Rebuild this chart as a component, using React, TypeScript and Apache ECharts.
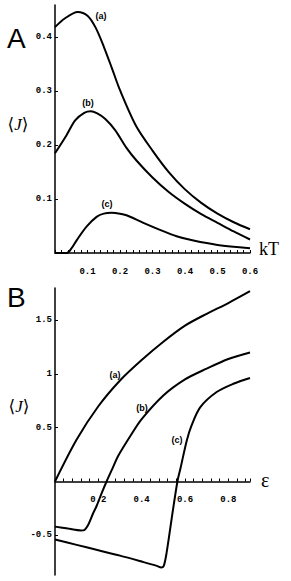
import React, { useEffect, useRef } from "react";
import * as echarts from "echarts";

// Panel A: <J> vs kT
const panelA_a: [number, number][] = [
  [0, 0.419], [0.03, 0.435], [0.07, 0.447], [0.1, 0.44], [0.125, 0.418], [0.15, 0.383],
  [0.175, 0.343], [0.2, 0.302], [0.25, 0.235], [0.3, 0.19], [0.35, 0.15], [0.4, 0.118],
  [0.45, 0.093], [0.5, 0.073], [0.55, 0.057], [0.6, 0.044],
];
const panelA_b: [number, number][] = [
  [0, 0.185], [0.035, 0.218], [0.062, 0.246], [0.09, 0.26], [0.11, 0.263], [0.13, 0.259],
  [0.154, 0.249], [0.185, 0.228], [0.22, 0.195], [0.25, 0.172], [0.3, 0.14], [0.35, 0.113],
  [0.4, 0.091], [0.45, 0.072], [0.5, 0.056], [0.55, 0.04], [0.6, 0.025],
];
const panelA_c: [number, number][] = [
  [0, 0], [0.036, 0], [0.05, 0.008], [0.067, 0.024], [0.097, 0.049], [0.128, 0.067],
  [0.15, 0.073], [0.174, 0.0746], [0.2, 0.073], [0.22, 0.07], [0.272, 0.056], [0.323, 0.043],
  [0.374, 0.031], [0.426, 0.023], [0.5, 0.015], [0.6, 0.009],
];

// Panel B: <J> vs epsilon
const panelB_a: [number, number][] = [
  [0, 0], [0.1, 0.39], [0.2, 0.7], [0.3, 0.94], [0.4, 1.13], [0.5, 1.3], [0.6, 1.45],
  [0.7, 1.56], [0.8, 1.66], [0.9, 1.77],
];
const panelB_b: [number, number][] = [
  [0, -0.42], [0.06, -0.438], [0.12, -0.455], [0.135, -0.452], [0.154, -0.4], [0.175, -0.3],
  [0.192, -0.228], [0.215, -0.11], [0.238, 0], [0.265, 0.12], [0.292, 0.239], [0.35, 0.43],
  [0.4, 0.58], [0.5, 0.8], [0.6, 0.95], [0.7, 1.05], [0.8, 1.14], [0.9, 1.2],
];
const panelB_c: [number, number][] = [
  [0, -0.54], [0.1, -0.59], [0.2, -0.64], [0.3, -0.69], [0.4, -0.745], [0.47, -0.785],
  [0.49, -0.8], [0.502, -0.785], [0.515, -0.664], [0.538, -0.352], [0.565, 0], [0.58, 0.13],
  [0.608, 0.38], [0.63, 0.52], [0.67, 0.69], [0.746, 0.832], [0.823, 0.909], [0.9, 0.963],
];

const yTicksA = [0.1, 0.2, 0.3, 0.4];
const yTicksB = [-0.5, 0.5, 1, 1.5];
const xLabelStepA = 0.1;
const xLabelStepB = 0.2;
const curveLabels = ["(a)", "(b)", "(c)"];

const isMultiple = (v: number, step: number) => {
  const r = v / step;
  return Math.abs(r - Math.round(r)) < 1e-6 && Math.abs(v) > 1e-9;
};

const tickFont = {
  fontFamily: "'Liberation Mono', 'DejaVu Sans Mono', monospace",
  fontWeight: "bold" as const,
  fontSize: 9,
  color: "#000",
};

const axisLineStyle = { show: true, lineStyle: { color: "#000", width: 1.5 } };
const tickStyle = { show: true, inside: true, length: 3, lineStyle: { color: "#000", width: 1 } };

export default function App() {
  const ref = useRef<HTMLDivElement>(null);
  useEffect(() => {
    document.body.style.margin = "0";
    if (!ref.current) return;
    const chart = echarts.init(ref.current, undefined, { renderer: "svg" });
    const lineSeries = (data: [number, number][], idx: number) => ({
      type: "line",
      xAxisIndex: idx,
      yAxisIndex: idx,
      data,
      symbol: "none",
      smooth: 0.3,
      lineStyle: { color: "#000", width: 2 },
      silent: true,
    });
    const labelStyle = (text: string, x: number, y: number) => ({
      type: "text",
      x,
      y,
      style: {
        text,
        fontFamily: "'Liberation Sans Narrow', 'Liberation Sans', sans-serif",
        fontWeight: "bold",
        fontSize: 9,
        fill: "#000",
        align: "center",
        verticalAlign: "middle",
      },
    });
    const jLabel = (x: number, y: number) => ({
      type: "text",
      x,
      y,
      style: {
        text: "{b|⟨}{j|J}{b|⟩}",
        align: "center",
        verticalAlign: "middle",
        rich: {
          b: { fontFamily: "'DejaVu Serif', serif", fontSize: 17, fill: "#000" },
          j: { fontFamily: "'Liberation Serif', serif", fontStyle: "italic", fontSize: 17, fill: "#000" },
        },
      },
    });
    chart.setOption({
      animation: false,
      backgroundColor: "#fff",
      grid: [
        { left: 55, top: 5, width: 195, height: 248 },
        { left: 55, top: 288, width: 195, height: 287 },
        // upper part of panel B down to the zero line, which carries the ε axis
        { left: 55, top: 288, width: 195, height: 193.5 },
      ],
      xAxis: [
        {
          type: "value",
          gridIndex: 0,
          min: 0,
          max: 0.6,
          interval: 0.02,
          axisLine: axisLineStyle,
          axisTick: tickStyle,
          axisLabel: {
            ...tickFont,
            margin: 14,
            formatter: (v: number) => (isMultiple(v, xLabelStepA) ? v.toFixed(1) : ""),
          },
          splitLine: { show: false },
        },
        {
          type: "value",
          gridIndex: 1,
          min: 0,
          max: 0.9,
          show: false,
        },
        {
          type: "value",
          gridIndex: 2,
          min: 0,
          max: 0.9,
          interval: 0.04,
          axisLine: axisLineStyle,
          axisTick: tickStyle,
          axisLabel: {
            ...tickFont,
            margin: 14,
            formatter: (v: number) => (isMultiple(v, xLabelStepB) ? v.toFixed(1) : ""),
          },
          splitLine: { show: false },
        },
      ],
      yAxis: [
        {
          type: "value",
          gridIndex: 0,
          min: 0,
          max: 0.46,
          axisLine: axisLineStyle,
          axisTick: { ...tickStyle, customValues: yTicksA },
          axisLabel: { ...tickFont, margin: 3, customValues: yTicksA },
          splitLine: { show: false },
        },
        {
          type: "value",
          gridIndex: 1,
          min: -0.87,
          max: 1.8,
          axisLine: axisLineStyle,
          axisTick: { ...tickStyle, customValues: yTicksB },
          axisLabel: { ...tickFont, margin: 3, customValues: yTicksB },
          splitLine: { show: false },
        },
        {
          type: "value",
          gridIndex: 2,
          min: 0,
          max: 1.8,
          show: false,
        },
      ],
      series: [
        lineSeries(panelA_a, 0),
        lineSeries(panelA_b, 0),
        lineSeries(panelA_c, 0),
        lineSeries(panelB_a, 1),
        lineSeries(panelB_b, 1),
        lineSeries(panelB_c, 1),
      ],
      graphic: [
        { type: "text", x: 7, y: 38, style: { text: "A", fontFamily: "'Liberation Sans', Arial, sans-serif", fontSize: 28, fill: "#000", verticalAlign: "middle" } },
        { type: "text", x: 7, y: 297, style: { text: "B", fontFamily: "'Liberation Sans', Arial, sans-serif", fontSize: 28, fill: "#000", verticalAlign: "middle" } },
        jLabel(18, 124),
        jLabel(19, 406),
        { type: "text", x: 259, y: 249, style: { text: "kT", fontFamily: "'Liberation Serif', serif", fontSize: 18, fill: "#000", verticalAlign: "middle" } },
        { type: "text", x: 261, y: 480, style: { text: "ε", fontFamily: "'Liberation Serif', serif", fontSize: 20, fill: "#000", verticalAlign: "middle" } },
        labelStyle(curveLabels[0], 101, 16),
        labelStyle(curveLabels[1], 88, 103),
        labelStyle(curveLabels[2], 107, 204),
        labelStyle(curveLabels[0], 115, 375),
        labelStyle(curveLabels[1], 142, 408),
        labelStyle(curveLabels[2], 177, 440),
      ],
    });
    return () => chart.dispose();
  }, []);
  return (
    <div
      ref={ref}
      style={{ position: "absolute", left: 0, top: 0, width: 291, height: 581, background: "#fff" }}
    />
  );
}
